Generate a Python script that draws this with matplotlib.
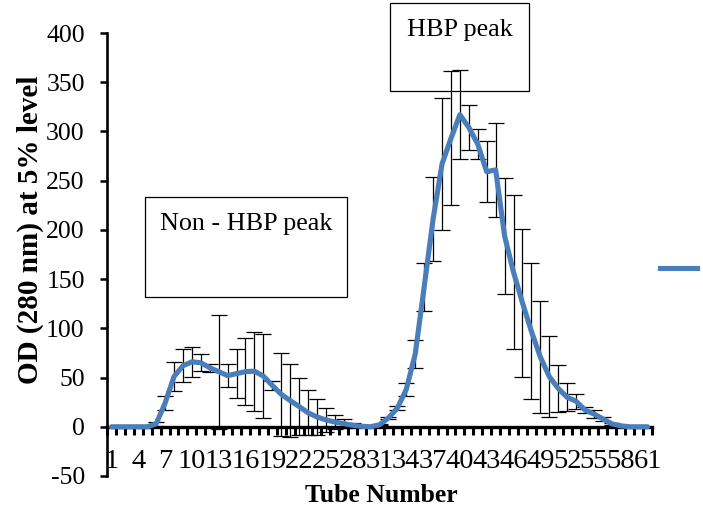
import matplotlib
matplotlib.use('Agg')
import matplotlib.pyplot as plt
import numpy as np
from matplotlib.patches import Rectangle
from matplotlib.lines import Line2D

plt.rcParams['font.family'] = ['Liberation Serif', 'DejaVu Serif']
plt.rcParams['axes.unicode_minus'] = False

# tube numbers and mean OD (280 nm) with the spread drawn as error bars
tubes = list(range(1, 62))
od = [0, 0, 0, 0, 0, 3, 24, 51, 62, 66,
      65, 60, 56, 52, 54, 56, 56.5, 51.5, 42, 33,
      26.6, 20.6, 14.2, 10, 7, 4.8, 3.2, 1.5, 0.5, 0,
      2, 9, 19, 38, 74, 142, 211, 267, 293, 317,
      304, 287, 259, 261, 194, 157, 126, 97, 71, 51,
      39, 30, 26, 17, 13, 8, 3, 1, 0, 0,
      0]
err = [0, 0, 0, 0, 0, 2, 7, 14.6, 17, 15,
       8.5, 4, 58, 12, 25, 34, 40, 43, 4.5, 42,
       37, 29, 23, 18, 12, 7, 4.5, 2, 0.5, 0,
       0.5, 1, 2, 6.3, 14.4, 24.7, 43, 67, 68, 45,
       22.5, 15, 31, 48, 59, 78, 75, 69, 57, 41,
       24, 14.4, 7.6, 2.8, 3.9, 2.4, 1, 0.5, 0, 0,
       0]
tick_labels = [str(t) for t in tubes[::3]]

W, H = 703, 509
fig = plt.figure(figsize=(W / 100, H / 100), dpi=100)
ax = fig.add_axes([107 / W, (H - 476) / H, 545 / W, 443 / H])

blue = '#4a7ebb'
ax.errorbar(tubes, od, yerr=err, fmt='none', ecolor='black',
            elinewidth=0.9, capsize=5.8, capthick=0.9, zorder=2)
ax.plot(tubes, od, color=blue, lw=3.7, solid_joinstyle='round',
        solid_capstyle='round', zorder=3)

ax.set_xlim(0.5, 61.5)
ax.set_ylim(-50, 400)
ax.set_yticks(np.arange(-50, 401, 50))

for s in ['top', 'right']:
    ax.spines[s].set_visible(False)
ax.spines['left'].set_linewidth(1.9)
ax.spines['bottom'].set_position(('data', 0))
ax.spines['bottom'].set_linewidth(2.4)

ax.set_xticks(tubes[::3])
ax.set_xticklabels(tick_labels)
ax.set_xticks(np.arange(0.5, 62, 1), minor=True)
ax.tick_params(axis='x', which='major', length=0, pad=16, labelsize=20.5)
ax.tick_params(axis='x', which='minor', length=6, width=2.2, direction='out')
ax.tick_params(axis='y', which='major', length=5, width=1.8, pad=11,
               labelsize=18.5)

fig.text(30 / W, 1 - 230 / H, 'OD (280 nm) at 5% level', rotation=90,
         ha='center', va='center', fontsize=21, fontweight='bold')
fig.text(381 / W, 1 - 495 / H, 'Tube Number', ha='center', va='center',
         fontsize=18.5, fontweight='bold')

# text boxes
for (x0, y0, x1, y1), label, ty in [((145, 197, 347, 297), 'Non - HBP peak', 224),
                                    ((390, 3, 529, 91), 'HBP peak', 30)]:
    fig.add_artist(Rectangle((x0 / W, 1 - y1 / H), (x1 - x0) / W, (y1 - y0) / H,
                             transform=fig.transFigure, fill=False,
                             edgecolor='black', lw=0.9))
    fig.text((x0 + x1) / 2 / W, 1 - ty / H, label, ha='center', va='center',
             fontsize=18.8)

# legend line with no name
fig.add_artist(Line2D([660 / W, 697 / W], [1 - 268 / H, 1 - 268 / H],
                      transform=fig.transFigure, color=blue, lw=3.7))

fig.savefig('out.png', dpi=100)
